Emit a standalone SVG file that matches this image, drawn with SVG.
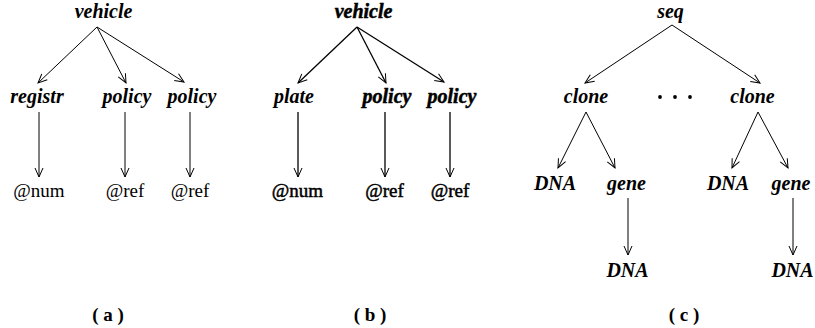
<svg xmlns="http://www.w3.org/2000/svg" width="815" height="328" viewBox="0 0 815 328">
<defs>
<style>
text{font-family:'Liberation Serif','DejaVu Serif',serif;fill:#000;text-anchor:middle}
.lbl{font-style:italic;font-weight:bold;font-size:20px}
.val{font-size:19px}
.cap{font-weight:bold;font-size:19px}
.heavy{stroke:#000;stroke-width:0.5}
.edge{stroke:#000;stroke-width:1;fill:none;marker-end:url(#arr)}
.edgeb{stroke:#000;stroke-width:1.3;fill:none;marker-end:url(#arr)}
</style>
<marker id="arr" markerUnits="userSpaceOnUse" viewBox="-10 -6 11 12" markerWidth="11" markerHeight="12" refX="0" refY="0" orient="auto">
<path d="M-9,-4 L0,0 L-9,4" fill="none" stroke="#000" stroke-width="1"/>
</marker>
</defs>
<rect width="815" height="328" fill="#fff"/>
<g id="connectors">
<line class="edge" x1="97" y1="27" x2="38" y2="83"/>
<line class="edge" x1="97" y1="27" x2="126" y2="83"/>
<line class="edge" x1="97" y1="27" x2="184" y2="82"/>
<line class="edge" x1="39" y1="112" x2="39" y2="177"/>
<line class="edge" x1="125" y1="112" x2="125" y2="177"/>
<line class="edge" x1="190" y1="112" x2="190" y2="177"/>
<line class="edgeb" x1="357" y1="27" x2="298" y2="83"/>
<line class="edgeb" x1="357" y1="27" x2="386" y2="83"/>
<line class="edgeb" x1="357" y1="27" x2="444" y2="82"/>
<line class="edgeb" x1="298" y1="112" x2="298" y2="177"/>
<line class="edgeb" x1="385" y1="112" x2="385" y2="177"/>
<line class="edgeb" x1="450" y1="112" x2="450" y2="177"/>
<line class="edge" x1="672" y1="25" x2="585" y2="83"/>
<line class="edge" x1="672" y1="25" x2="760" y2="83"/>
<line class="edge" x1="586" y1="112" x2="558" y2="168"/>
<line class="edge" x1="586" y1="112" x2="615" y2="168"/>
<line class="edge" x1="758" y1="112" x2="732" y2="168"/>
<line class="edge" x1="758" y1="112" x2="788" y2="168"/>
<line class="edge" x1="628" y1="198" x2="628" y2="255"/>
<line class="edge" x1="793" y1="198" x2="793" y2="255"/>
</g>
<g id="a-vehicle"><text class="lbl" x="103.5" y="18">vehicle</text></g>
<g id="a-registr"><text class="lbl" x="37" y="103">registr</text></g>
<g id="a-policy1"><text class="lbl" x="127" y="103">policy</text></g>
<g id="a-policy2"><text class="lbl" x="192" y="103">policy</text></g>
<g id="a-num"><text class="val" x="39" y="197">@num</text></g>
<g id="a-ref1"><text class="val" x="125" y="197">@ref</text></g>
<g id="a-ref2"><text class="val" x="190" y="197">@ref</text></g>
<g id="b-vehicle"><text class="lbl heavy" x="363.5" y="18">vehicle</text></g>
<g id="b-plate"><text class="lbl" x="294" y="103">plate</text></g>
<g id="b-policy1"><text class="lbl heavy" x="387" y="103">policy</text></g>
<g id="b-policy2"><text class="lbl heavy" x="452" y="103">policy</text></g>
<g id="b-num"><text class="val heavy" x="297.5" y="197">@num</text></g>
<g id="b-ref1"><text class="val heavy" x="384.5" y="197">@ref</text></g>
<g id="b-ref2"><text class="val heavy" x="450" y="197">@ref</text></g>
<g id="c-seq"><text class="lbl" x="670.5" y="18">seq</text></g>
<g id="c-clone1"><text class="lbl" x="586" y="103">clone</text></g>
<g id="c-dots"><circle cx="660" cy="97" r="1.9"/><circle cx="675" cy="97" r="1.9"/><circle cx="690" cy="97" r="1.9"/></g>
<g id="c-clone2"><text class="lbl" x="752.5" y="103">clone</text></g>
<g id="c-dna1"><text class="lbl" x="555" y="190">DNA</text></g>
<g id="c-gene1"><text class="lbl" x="626.5" y="190">gene</text></g>
<g id="c-dna2"><text class="lbl" x="728" y="190">DNA</text></g>
<g id="c-gene2"><text class="lbl" x="791" y="190">gene</text></g>
<g id="c-dna3"><text class="lbl" x="627.5" y="277">DNA</text></g>
<g id="c-dna4"><text class="lbl" x="792.5" y="277">DNA</text></g>
<g id="cap-a"><text class="cap" x="108" y="321">( a )</text></g>
<g id="cap-b"><text class="cap" x="370" y="321">( b )</text></g>
<g id="cap-c"><text class="cap" x="684" y="321">( c )</text></g>
</svg>
